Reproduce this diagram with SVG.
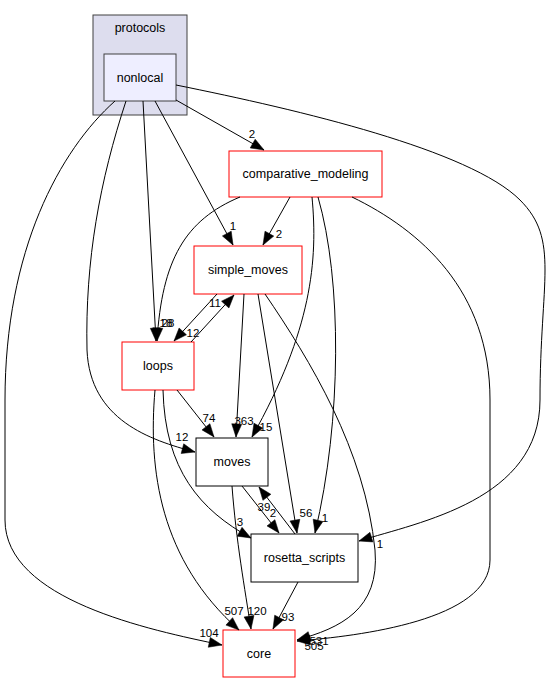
<svg xmlns="http://www.w3.org/2000/svg" width="547" height="684" viewBox="0 0 547 684">
<style>
text{font-family:"Liberation Sans",Arial,sans-serif;fill:#000}
.n{font-size:12.5px;text-anchor:middle}
.e{font-size:11.5px;text-anchor:middle}
.red{fill:#fff;stroke:#ff0000;stroke-width:1}
.blk{fill:#fff;stroke:#000;stroke-width:1}
.c path{fill:none;stroke:#000;stroke-width:1;marker-end:url(#a)}
</style>
<defs>
<marker id="a" markerUnits="userSpaceOnUse" markerWidth="15" markerHeight="12" refX="13" refY="5" orient="auto" overflow="visible">
<path d="M0,0 L13,5 L0,10 z" fill="#000" stroke="#000" stroke-width="0.5"/>
</marker>
</defs>
<rect width="547" height="684" fill="#fff"/>
<g id="cluster_protocols">
<rect x="93" y="15" width="94" height="100" fill="#ddddee" stroke="#404040"/>
<text class="n" x="140" y="32">protocols</text>
</g>
<g id="node_nonlocal">
<rect x="104" y="54" width="72" height="47" fill="#eeeeff" stroke="#404040"/>
<text class="n" x="140" y="82">nonlocal</text>
</g>
<g id="node_comparative_modeling">
<rect class="red" x="229" y="151" width="153" height="46"/>
<text class="n" x="305.5" y="178">comparative_modeling</text>
</g>
<g id="node_simple_moves">
<rect class="red" x="194" y="246" width="108" height="48"/>
<text class="n" x="248" y="274">simple_moves</text>
</g>
<g id="node_loops">
<rect class="red" x="122" y="342" width="72" height="48"/>
<text class="n" x="158" y="370">loops</text>
</g>
<g id="node_moves">
<rect class="blk" x="196" y="438" width="72" height="48"/>
<text class="n" x="232" y="466">moves</text>
</g>
<g id="node_rosetta_scripts">
<rect class="blk" x="251" y="534" width="107" height="48"/>
<text class="n" x="304.5" y="562">rosetta_scripts</text>
</g>
<g id="node_core">
<rect class="red" x="223" y="630" width="72" height="47"/>
<text class="n" x="259" y="658">core</text>
</g>
<g id="connectors" class="c">
<path d="M176,100 L264,150"/>
<path d="M155,101 L233,245"/>
<path d="M143,101 L156,341"/>
<path d="M240,197 C185,220 162,260 157,341"/>
<path d="M126,101 C100,180 85,260 87,350 C90,420 150,440 195,452"/>
<path d="M115,101 C60,150 5,250 5,400 L5,520 C5,600 150,630 222,645"/>
<path d="M176,85 C300,110 470,150 520,200 C560,240 540,280 540,400 C540,500 420,522 359,541"/>
<path d="M290,197 L263,245"/>
<path d="M312,197 C318,260 312,330 252,437"/>
<path d="M318,197 C342,280 342,420 315,533"/>
<path d="M352,197 C420,230 490,290 490,400 L490,560 C490,620 360,636 297,641"/>
<path d="M217,294 L174,341"/>
<path d="M191,342 L234,295"/>
<path d="M244,294 L236,437"/>
<path d="M258,294 L297,533"/>
<path d="M265,294 C310,360 365,450 375,550 C380,610 340,628 297,640"/>
<path d="M177,390 L214,437"/>
<path d="M163,390 C165,470 200,510 251,538"/>
<path d="M155,390 C148,470 160,560 239,630"/>
<path d="M242,486 L279,533"/>
<path d="M295,534 L259,487"/>
<path d="M232,486 C236,540 245,590 251,629"/>
<path d="M298,582 L273,629"/>
</g>
<g id="labels">
<text class="e" x="252" y="138">2</text>
<text class="e" x="233" y="230">1</text>
<text class="e" x="279" y="238">2</text>
<text class="e" x="166" y="327">18</text>
<text class="e" x="168" y="327">28</text>
<text class="e" x="215" y="307">11</text>
<text class="e" x="193" y="337">12</text>
<text class="e" x="209" y="422">74</text>
<text class="e" x="244" y="425">363</text>
<text class="e" x="266" y="431">15</text>
<text class="e" x="182" y="441">12</text>
<text class="e" x="264" y="511">39</text>
<text class="e" x="273" y="517">2</text>
<text class="e" x="306" y="517">56</text>
<text class="e" x="325" y="522">1</text>
<text class="e" x="240" y="526">3</text>
<text class="e" x="380" y="548">1</text>
<text class="e" x="234" y="615">507</text>
<text class="e" x="257" y="615">120</text>
<text class="e" x="288" y="621">93</text>
<text class="e" x="209" y="637">104</text>
<text class="e" x="319" y="645">531</text>
<text class="e" x="314" y="650">505</text>
</g>
</svg>
